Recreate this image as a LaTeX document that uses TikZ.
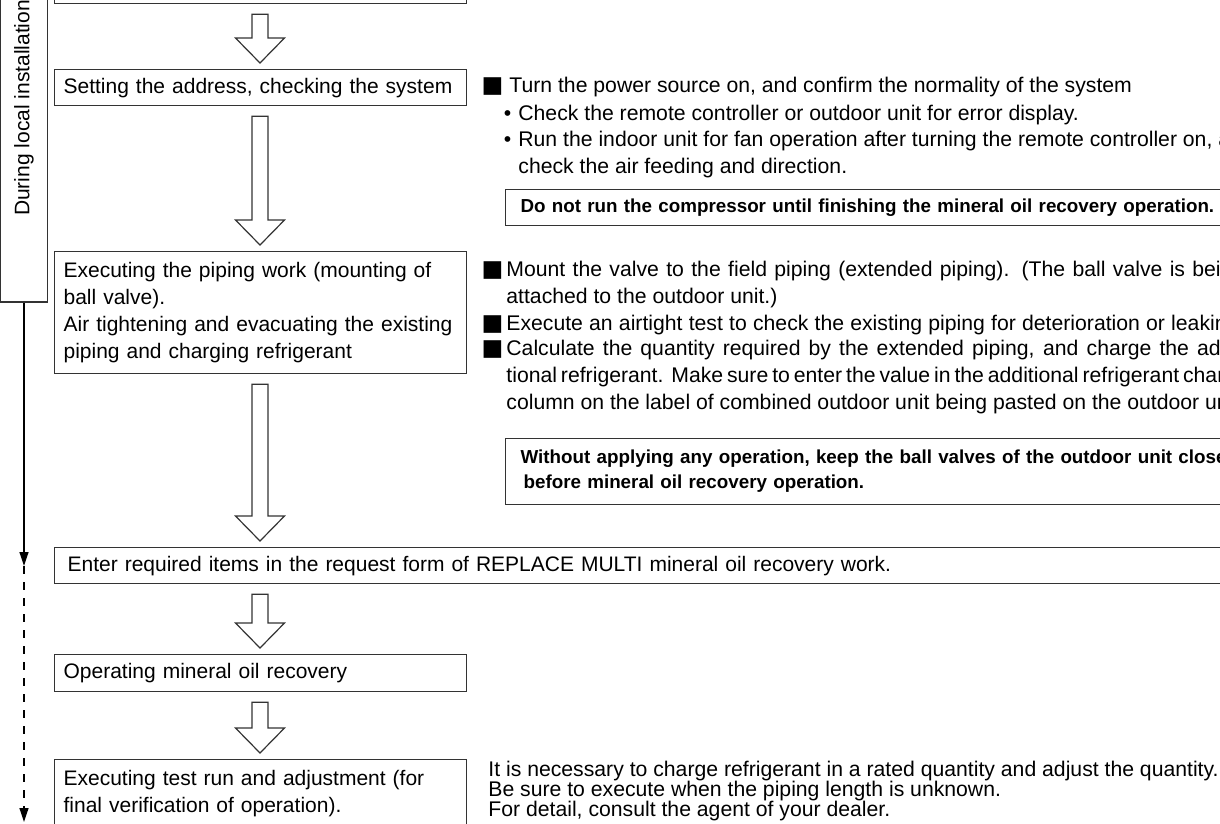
\documentclass[tikz,border=0pt]{standalone}
\usepackage{fontspec}
\setmainfont{Liberation Sans}
\newfontfamily\symfont{DejaVu Sans}
\usetikzlibrary{arrows.meta,calc}

\newcommand{\sqmark}{{\symfont\fontsize{11.5pt}{12pt}\selectfont ■}}
\newcommand{\justline}[1]{\makebox[369pt][s]{#1}}

\tikzset{
  stepbox/.style={draw=black!80, line width=0.6pt, anchor=north west, inner xsep=4.5pt, inner ysep=0pt,
    text width=197pt, align=left, font=\fontsize{10.5pt}{13.5pt}\selectfont},
  warnbox/.style={draw=black!80, line width=0.6pt, anchor=north west, inner xsep=7.5pt, inner ysep=0pt,
    text width=500pt, align=left, minimum height=18pt, font=\fontsize{9.4pt}{12.5pt}\selectfont\bfseries},
  note/.style={anchor=base west, inner sep=0pt, align=left, font=\fontsize{10.6pt}{13.35pt}\selectfont},
  hollow/.style={draw=black!80, line width=0.6pt, fill=white},
  flowline/.style={line width=0.6pt, -{Triangle[width=4.5pt,length=7pt]}},
}

\begin{document}
\begin{tikzpicture}[x=0.5pt,y=-0.5pt]
  \useasboundingbox (0,0) rectangle (1220,824);
  \clip (0,0) rectangle (1220,824);

  % left column
  \node[draw=black!80, line width=0.6pt, rotate=90, minimum width=194pt, minimum height=23.5pt, inner sep=0pt,
    font=\fontsize{10.5pt}{12pt}\selectfont] (during) at (24,108) {During local installation};
  \coordinate (split) at (24,566);
  \coordinate (finish) at (24,822);
  \draw[flowline] (during.west) -- (split);
  \draw[flowline, dash pattern=on 4pt off 4pt] (split) -- (finish);

  % steps
  \node[stepbox, minimum height=20pt] (prep) at (54,-37) {};
  \node[stepbox, minimum height=18pt] (addr) at (54,69) {Setting the address, checking the system};
  \node[stepbox, minimum height=61pt] (pipe) at (54,251) {Executing the piping work (mounting of\\ball valve).\\Air tightening and evacuating the existing\\piping and charging refrigerant};
  \node[stepbox, minimum height=18pt, text width=600pt, inner xsep=6.5pt] (form) at (54,547) {Enter required items in the request form of REPLACE MULTI mineral oil recovery work.};
  \node[stepbox, minimum height=18.5pt] (recov) at (54,654) {Operating mineral oil recovery};
  \node[stepbox, minimum height=33.5pt] (test) at (54,759) {Executing test run and adjustment (for\\final verification of operation).};

  \foreach \a/\b in {prep/addr,addr/pipe,pipe/form,form/recov,recov/test}{
    \draw[hollow] ($(\a.south west)+(198,10)$) -- ($(\b.north west)+(198,-31)$) -- ($(\b.north west)+(181.5,-31)$)
      -- ($(\b.north west)+(206,-6)$) -- ($(\b.north west)+(230.5,-31)$) -- ($(\b.north west)+(214,-31)$)
      -- ($(\a.south west)+(214,10)$) -- cycle;
  }

  % notes (base = last line)
  \node[note] (power) at (509,93) {\llap{\sqmark\hspace{3pt}}Turn the power source on, and confirm the normality of the system};
  \node[note] (check) at (518,120) {\llap{•\hspace{3.5pt}}Check the remote controller or outdoor unit for error display.};
  \node[note] (fan) at (518,173) {\llap{•\hspace{3.5pt}}Run the indoor unit for fan operation after turning the remote controller on, and\\check the air feeding and direction.};
  \node[warnbox] (nocomp) at (505,189) {Do not run the compressor until finishing the mineral oil recovery operation.};

  \node[note] (mount) at (506,303) {\llap{\sqmark\hspace{1.5pt}}\justline{Mount the valve to the field piping (extended piping). (The ball valve is being}\\attached to the outdoor unit.)};
  \node[note] (airtight) at (506,330) {\llap{\sqmark\hspace{1.5pt}}\justline{Execute an airtight test to check the existing piping for deterioration or leaking.}};
  \node[note] (charge) at (506,409) {\llap{\sqmark\hspace{1.5pt}}\justline{Calculate the quantity required by the extended piping, and charge the addi-}\\\justline{tional refrigerant.\ \ Make sure to enter the value in the additional refrigerant charge}\\column on the label of combined outdoor unit being pasted on the outdoor unit.};
  \node[warnbox, minimum height=33pt] (closed) at (505,438) {Without applying any operation, keep the ball valves of the outdoor unit closed\\\hspace*{1.5pt}before mineral oil recovery operation.};

  \node[note, font=\fontsize{10.6pt}{10pt}\selectfont] (rated) at (488,816) {It is necessary to charge refrigerant in a rated quantity and adjust the quantity.\\Be sure to execute when the piping length is unknown.\\For detail, consult the agent of your dealer.};
\end{tikzpicture}
\end{document}
